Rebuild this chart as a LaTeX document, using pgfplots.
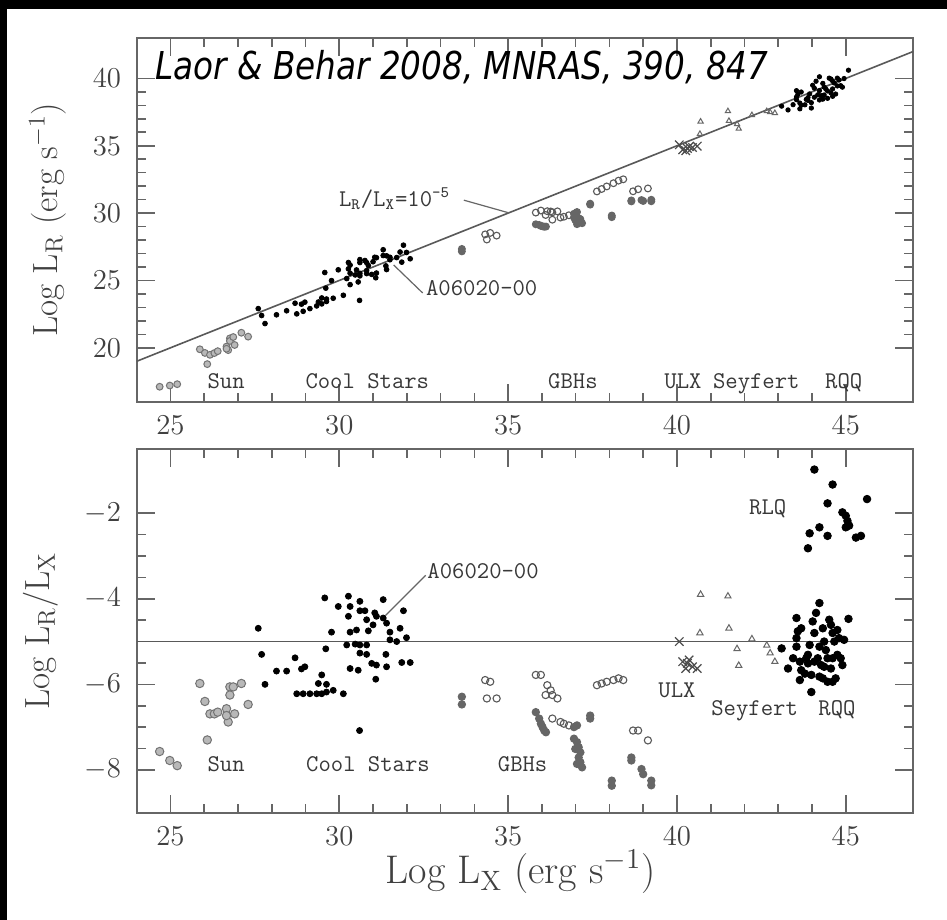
\documentclass[border=0pt]{standalone}
\usepackage{pgfplots}
\usepackage{pgfplotstable}
\pgfplotsset{compat=1.18}
\usepackage{fontspec}
\newfontfamily\titlefont[FakeStretch=0.85]{DejaVu Sans}

% columns: x = Log L_X, lr = Log L_R, r = Log L_R/L_X
\pgfplotstableread{
x lr r
24.68 17.11 -7.57
24.98 17.20 -7.78
25.20 17.30 -7.90
25.87 19.89 -5.98
26.02 19.62 -6.40
26.09 18.79 -7.30
26.17 19.48 -6.69
26.30 19.61 -6.69
26.40 19.75 -6.65
26.66 20.09 -6.57
26.76 20.70 -6.06
26.76 20.51 -6.25
26.71 19.83 -6.88
26.66 19.93 -6.73
26.90 20.21 -6.69
27.10 21.12 -5.98
27.30 20.83 -6.47
26.86 20.80 -6.06
}\sun

\pgfplotstableread{
x lr r
27.60 22.91 -4.69
27.70 22.40 -5.30
27.80 21.80 -6.00
28.14 22.45 -5.69
28.44 22.75 -5.69
28.69 23.31 -5.38
28.88 23.24 -5.64
28.98 23.39 -5.59
28.74 22.52 -6.22
28.93 22.71 -6.22
29.13 22.91 -6.22
29.33 23.11 -6.22
29.48 23.26 -6.22
29.62 23.44 -6.18
29.82 23.68 -6.14
30.12 23.90 -6.22
29.48 23.70 -5.78
29.38 23.40 -5.98
29.62 23.62 -6.00
29.57 25.59 -3.98
29.60 24.43 -5.17
29.77 24.99 -4.78
29.97 25.79 -4.18
30.27 26.33 -3.94
30.32 26.14 -4.18
30.27 25.86 -4.41
30.32 25.54 -4.78
30.51 25.78 -4.73
30.22 25.14 -5.08
30.47 25.41 -5.06
30.61 26.55 -4.06
30.61 26.33 -4.28
30.76 26.48 -4.28
30.81 26.32 -4.49
30.86 26.11 -4.75
31.00 26.39 -4.61
31.10 26.69 -4.41
31.05 26.72 -4.33
31.30 27.28 -4.02
31.30 26.85 -4.45
31.40 26.83 -4.57
31.50 26.72 -4.78
31.50 26.54 -4.96
31.70 26.70 -5.00
31.80 27.11 -4.69
31.99 27.08 -4.91
31.90 27.62 -4.28
30.61 25.53 -5.08
30.81 25.73 -5.08
30.61 25.34 -5.27
30.81 25.51 -5.30
30.32 24.69 -5.63
30.56 24.89 -5.67
30.96 25.45 -5.51
31.10 25.55 -5.55
31.40 25.81 -5.59
31.38 26.08 -5.30
31.08 25.20 -5.88
31.85 26.36 -5.49
32.10 26.61 -5.49
30.60 23.52 -7.08
}\coolstars

\pgfplotstableread{
x lr r
34.32 28.42 -5.90
34.47 28.53 -5.94
34.37 28.04 -6.33
34.66 28.33 -6.33
35.82 30.04 -5.78
35.97 30.19 -5.78
36.16 30.14 -6.02
36.26 30.12 -6.14
36.11 29.86 -6.25
36.31 30.06 -6.25
36.46 30.13 -6.33
36.31 29.51 -6.80
36.55 29.67 -6.88
36.65 29.73 -6.92
36.80 29.84 -6.96
37.63 31.61 -6.02
37.77 31.79 -5.98
37.92 31.98 -5.94
38.12 32.22 -5.90
38.27 32.41 -5.86
38.41 32.51 -5.90
38.70 31.62 -7.08
38.85 31.77 -7.08
39.14 31.83 -7.31
}\gbhopen

\pgfplotstableread{
x lr r
33.63 27.34 -6.29
33.63 27.16 -6.47
35.82 29.17 -6.65
35.92 29.12 -6.80
35.97 29.05 -6.92
36.02 29.02 -7.00
36.07 28.99 -7.08
36.12 29.00 -7.12
36.95 29.95 -7.00
37.04 30.08 -6.96
36.95 29.68 -7.27
37.04 29.69 -7.35
37.09 29.62 -7.47
36.99 29.48 -7.51
37.14 29.55 -7.59
37.09 29.38 -7.71
37.14 29.32 -7.82
37.19 29.25 -7.94
37.04 29.18 -7.86
37.43 30.70 -6.73
37.43 30.63 -6.80
38.07 29.82 -8.25
38.07 29.70 -8.37
38.65 30.94 -7.71
38.65 30.87 -7.78
38.95 30.97 -7.98
39.00 30.90 -8.10
39.24 30.99 -8.25
39.24 30.88 -8.36
}\gbhfilled

\pgfplotstableread{
x lr r
40.07 35.07 -5.00
40.17 34.70 -5.47
40.31 34.80 -5.51
40.46 34.87 -5.59
40.26 34.63 -5.63
40.60 34.97 -5.63
40.36 34.93 -5.43
}\ulx

\pgfplotstableread{
x lr r
40.70 36.80 -3.90
41.51 37.57 -3.94
40.68 35.88 -4.80
41.54 36.85 -4.69
41.78 36.61 -5.17
41.83 36.27 -5.56
42.22 37.28 -4.94
42.66 37.57 -5.09
42.76 37.49 -5.27
42.90 37.43 -5.47
}\seyfert

\pgfplotstableread{
x lr r
43.10 37.94 -5.16
43.29 37.66 -5.63
43.44 38.05 -5.39
43.54 39.09 -4.45
43.58 38.82 -4.76
43.68 38.99 -4.69
43.54 38.62 -4.92
43.54 38.42 -5.12
43.64 38.17 -5.47
43.68 38.01 -5.67
43.64 37.74 -5.90
43.79 38.04 -5.75
43.83 38.44 -5.39
43.88 38.37 -5.51
43.98 38.20 -5.78
43.98 37.80 -6.18
44.02 39.49 -4.53
44.07 39.27 -4.80
44.12 39.79 -4.33
44.22 40.12 -4.10
44.22 39.10 -5.12
44.17 38.78 -5.39
44.27 38.72 -5.55
44.32 39.63 -4.69
44.36 39.36 -5.00
44.41 39.21 -5.20
44.46 39.07 -5.39
44.51 40.02 -4.49
44.56 39.95 -4.61
44.56 38.93 -5.63
44.61 39.81 -4.80
44.66 39.66 -5.00
44.46 38.52 -5.94
44.61 38.67 -5.94
44.70 38.84 -5.86
44.75 40.02 -4.73
44.80 39.88 -4.92
44.85 39.46 -5.39
44.90 39.35 -5.55
44.95 39.99 -4.96
45.08 40.61 -4.47
44.36 38.77 -5.59
44.07 38.60 -5.47
43.93 38.85 -5.08
44.61 39.22 -5.39
44.32 38.46 -5.86
43.88 38.57 -5.31
44.75 39.44 -5.31
44.22 38.40 -5.82
}\rqq

\pgfplotstableread{
x r
44.07 -0.98
44.61 -1.33
44.46 -1.77
45.63 -1.67
44.90 -1.98
45.00 -2.06
45.05 -2.18
45.10 -2.29
45.00 -2.33
45.30 -2.57
45.45 -2.53
44.22 -2.33
43.93 -2.47
44.46 -2.53
43.88 -2.82
}\rlq

\tikzset{
  catlab/.style={font=\ttfamily\fontsize{12}{14}\selectfont, text=black!78, inner sep=0pt},
}
\pgfplotsset{
  panel/.style={
    scale only axis, width=388.3pt, height=181.85pt,
    xmin=24, xmax=47,
    xtick={25,30,35,40,45}, minor x tick num=4,
    major tick length=9pt, minor tick length=4.5pt,
    axis line style={black!60, line width=0.9pt},
    tick style={black!60, line width=0.8pt},
    tick label style={font=\fontsize{15}{18}\selectfont, text=black!75},
    xticklabel style={yshift=-3.5pt},
    yticklabel style={xshift=-4.3pt},
    label style={font=\fontsize{17.5}{21}\selectfont, text=black!75},
  },
  refline/.style={no marks, black!65, line width=0.8pt},
  sunM/.style={only marks, mark=*, mark options={draw=black!55, fill=black!28, line width=0.5pt}},
  starM/.style={only marks, mark=*, mark options={draw=black, fill=black}},
  gbhoM/.style={only marks, mark=o, mark options={draw=black!65, line width=0.55pt}},
  gbhfM/.style={only marks, mark=*, mark options={draw=black!60, fill=black!60, line width=0.55pt}},
  ulxM/.style={only marks, mark=x, mark options={draw=black!70, line width=0.6pt}},
  seyM/.style={only marks, mark=triangle, mark options={draw=black!60, line width=0.5pt}},
  qsoM/.style={only marks, mark=*, mark options={draw=black, fill=black}},
}

\begin{document}
\begin{tikzpicture}
\fill[white] (-20pt,-20pt) rectangle (495pt,460pt);
\fill[black] (-20pt,-20pt) rectangle (3.5pt,460pt);
\fill[black] (-20pt,455.5pt) rectangle (495pt,470pt);

% ---------------- upper panel ----------------
\begin{axis}[panel, at={(68.35pt,259.15pt)}, anchor=south west,
  ymin=16, ymax=43, ytick={20,25,30,35,40}, minor y tick num=4,
  ylabel={Log L$_{\rm R}$ (erg s$^{-1}$)},
  ylabel style={at={(axis description cs:-0.1149,0.5)}, anchor=center}]
\addplot[refline] coordinates {(24,19) (47,42)};
\addplot[sunM, mark size=1.7pt] table[x=x, y=lr] {\sun};
\addplot[starM, mark size=1.2pt] table[x=x, y=lr] {\coolstars};
\addplot[gbhoM, mark size=1.7pt] table[x=x, y=lr] {\gbhopen};
\addplot[gbhfM, mark size=1.7pt] table[x=x, y=lr] {\gbhfilled};
\addplot[ulxM, mark size=3pt] table[x=x, y=lr] {\ulx};
\addplot[seyM, mark size=1.5pt] table[x=x, y=lr] {\seyfert};
\addplot[qsoM, mark size=1.1pt] table[x=x, y=lr] {\rqq};
\draw[black!60, line width=0.6pt] (axis cs:33.69,30.96) -- (axis cs:35.02,30.02);
\node[catlab, anchor=base west] at (axis cs:29.98,30.5) {L\textsubscript{R}/L\textsubscript{X}=10\textsuperscript{-5}};
\draw[black!60, line width=0.6pt] (axis cs:31.61,26.15) -- (axis cs:32.47,24.07);
\node[catlab, anchor=base west] at (axis cs:32.56,23.92) {A06020-00};
\node[catlab, anchor=base] at (axis cs:26.65,16.95) {Sun};
\node[catlab, anchor=base] at (axis cs:30.83,16.95) {Cool Stars};
\node[catlab, anchor=base] at (axis cs:36.92,16.95) {GBHs};
\node[catlab, anchor=base] at (axis cs:40.18,16.95) {ULX};
\node[catlab, anchor=base] at (axis cs:42.35,16.95) {Seyfert};
\node[catlab, anchor=base] at (axis cs:44.94,16.95) {RQQ};
\end{axis}

% ---------------- lower panel ----------------
\begin{axis}[panel, at={(68.35pt,53.65pt)}, anchor=south west,
  ymin=-9, ymax=-0.5, ytick={-8,-6,-4,-2}, minor y tick num=3,
  ylabel={Log L$_{\rm R}$/L$_{\rm X}$},
  ylabel style={at={(axis description cs:-0.1232,0.5)}, anchor=center},
  xlabel={Log L$_{\rm X}$ (erg s$^{-1}$)},
  xlabel style={at={(axis description cs:0.4942,-0.163)}, anchor=center, font=\fontsize{20}{24}\selectfont}]
\addplot[refline] coordinates {(24,-5) (47,-5)};
\addplot[sunM, mark size=2.1pt] table[x=x, y=r] {\sun};
\addplot[starM, mark size=1.5pt] table[x=x, y=r] {\coolstars};
\addplot[gbhoM, mark size=1.8pt] table[x=x, y=r] {\gbhopen};
\addplot[gbhfM, mark size=1.8pt] table[x=x, y=r] {\gbhfilled};
\addplot[ulxM, mark size=3pt] table[x=x, y=r] {\ulx};
\addplot[seyM, mark size=1.8pt] table[x=x, y=r] {\seyfert};
\addplot[qsoM, mark size=1.9pt] table[x=x, y=r] {\rqq};
\addplot[qsoM, mark size=1.9pt] table[x=x, y=r] {\rlq};
\draw[black!60, line width=0.6pt] (axis cs:31.37,-4.39) -- (axis cs:32.56,-3.45);
\node[catlab, anchor=base west] at (axis cs:32.6,-3.53) {A06020-00};
\node[catlab, anchor=base] at (axis cs:26.65,-8.03) {Sun};
\node[catlab, anchor=base] at (axis cs:30.85,-8.03) {Cool Stars};
\node[catlab, anchor=base] at (axis cs:35.43,-8.03) {GBHs};
\node[catlab, anchor=base] at (axis cs:40.0,-6.30) {ULX};
\node[catlab, anchor=base] at (axis cs:42.30,-6.72) {Seyfert};
\node[catlab, anchor=base] at (axis cs:44.74,-6.72) {RQQ};
\node[catlab, anchor=base] at (axis cs:42.69,-2.02) {RLQ};
\end{axis}

\node[anchor=base west, inner sep=0pt] at (77.5pt,420pt)
  {\titlefont\itshape\fontsize{19.2}{23}\selectfont Laor \& Behar 2008, MNRAS, 390, 847};

\pgfresetboundingbox
\path[use as bounding box] (0,0) rectangle (473.5pt,460pt);
\end{tikzpicture}
\end{document}
